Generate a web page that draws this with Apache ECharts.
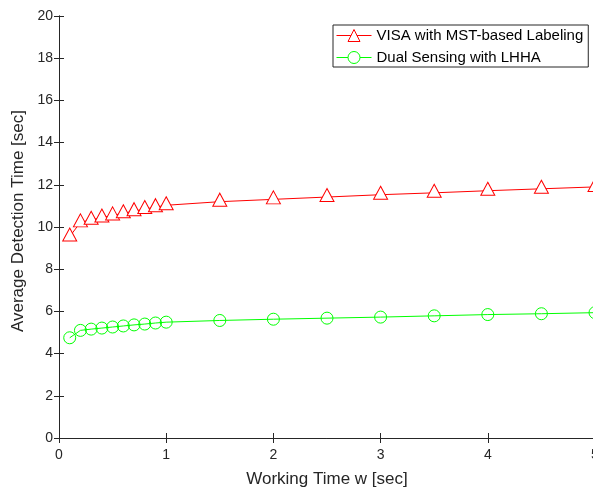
<!DOCTYPE html>
<html>
<head>
<meta charset="utf-8">
<script src="https://cdn.jsdelivr.net/npm/echarts@6/dist/echarts.min.js"></script>
<style>
  html, body { margin: 0; padding: 0; background: #fff; }
  #chart { width: 593px; height: 490px; }
</style>
</head>
<body>
<div id="chart"></div>
<script>
// Working time w (sec) sampled for both schemes
const workingTime = [0.1, 0.2, 0.3, 0.4, 0.5, 0.6, 0.7, 0.8, 0.9, 1.0,
                     1.5, 2.0, 2.5, 3.0, 3.5, 4.0, 4.5, 5.0];
// Average detection time (sec)
const visaMst = [9.55, 10.22, 10.34, 10.45, 10.55, 10.65, 10.75, 10.85, 10.94, 11.03,
                 11.2, 11.31, 11.42, 11.53, 11.62, 11.72, 11.81, 11.9];
const dualLhha = [4.75, 5.1, 5.16, 5.21, 5.26, 5.31, 5.36, 5.4, 5.45, 5.49,
                  5.57, 5.63, 5.68, 5.73, 5.79, 5.85, 5.89, 5.94];
const seriesNames = ['VISA with MST-based Labeling', 'Dual Sensing with LHHA'];

const axisColor = '#262626';
const font = 'Liberation Sans, Arial, Helvetica, sans-serif';
const red = '#ff0000';
const green = '#00ff00';

function pairs(ys) { return workingTime.map((x, i) => [x, ys[i]]); }

const chart = echarts.init(document.getElementById('chart'), null, { renderer: 'canvas' });

const frameAxis = {
  axisLine: { show: true, lineStyle: { color: axisColor, width: 1 } },
  axisTick: { show: true, inside: true, length: 5, lineStyle: { color: axisColor } },
  splitLine: { show: false }
};

chart.setOption({
  animation: false,
  backgroundColor: '#ffffff',
  color: [red, green],
  grid: { left: 59, right: -2, top: 16, bottom: 52, containLabel: false, outerBoundsMode: 'none' },
  legend: {
    left: 333, top: 25,
    orient: 'vertical',
    data: seriesNames,
    backgroundColor: '#ffffff',
    borderColor: axisColor, borderWidth: 1,
    padding: [3, 5, 2, 3],
    itemGap: 7,
    itemWidth: 35, itemHeight: 15,
    lineStyle: { width: 1, color: 'inherit' },
    itemStyle: { borderWidth: 1, color: '#ffffff', borderColor: 'inherit' },
    textStyle: { fontFamily: font, fontSize: 15, color: '#000' }
  },
  xAxis: [
    Object.assign({
      type: 'value', min: 0, max: 5, interval: 1, position: 'bottom',
      name: 'Working Time w [sec]', nameLocation: 'middle', nameGap: 33,
      nameTextStyle: { fontFamily: font, fontSize: 17, color: axisColor },
      axisLabel: { fontFamily: font, fontSize: 14, color: axisColor, margin: 10 }
    }, frameAxis),
    Object.assign({
      type: 'value', min: 0, max: 5, interval: 1, position: 'top',
      axisLabel: { show: false }
    }, frameAxis)
  ],
  yAxis: [
    Object.assign({
      type: 'value', min: 0, max: 20, interval: 2, position: 'left',
      name: 'Average Detection Time [sec]', nameLocation: 'middle', nameGap: 27,
      nameTextStyle: { fontFamily: font, fontSize: 17, color: axisColor, padding: [0, 0, 0, 12] },
      axisLabel: { fontFamily: font, fontSize: 14, color: axisColor, margin: 6 }
    }, frameAxis),
    Object.assign({
      type: 'value', min: 0, max: 20, interval: 2, position: 'right',
      axisLabel: { show: false }
    }, frameAxis)
  ],
  series: [
    {
      name: seriesNames[0], type: 'line', data: pairs(visaMst),
      xAxisIndex: 0, yAxisIndex: 0,
      symbol: 'triangle', symbolSize: [14, 13], symbolOffset: [0, -2],
      showAllSymbol: true,
      lineStyle: { color: red, width: 1 },
      itemStyle: { color: '#ffffff', borderColor: red, borderWidth: 1 }
    },
    {
      name: seriesNames[1], type: 'line', data: pairs(dualLhha),
      xAxisIndex: 0, yAxisIndex: 0,
      symbol: 'circle', symbolSize: 12,
      showAllSymbol: true,
      lineStyle: { color: green, width: 1 },
      itemStyle: { color: 'rgba(255,255,255,0)', borderColor: green, borderWidth: 1 }
    }
  ]
});
</script>
</body>
</html>
